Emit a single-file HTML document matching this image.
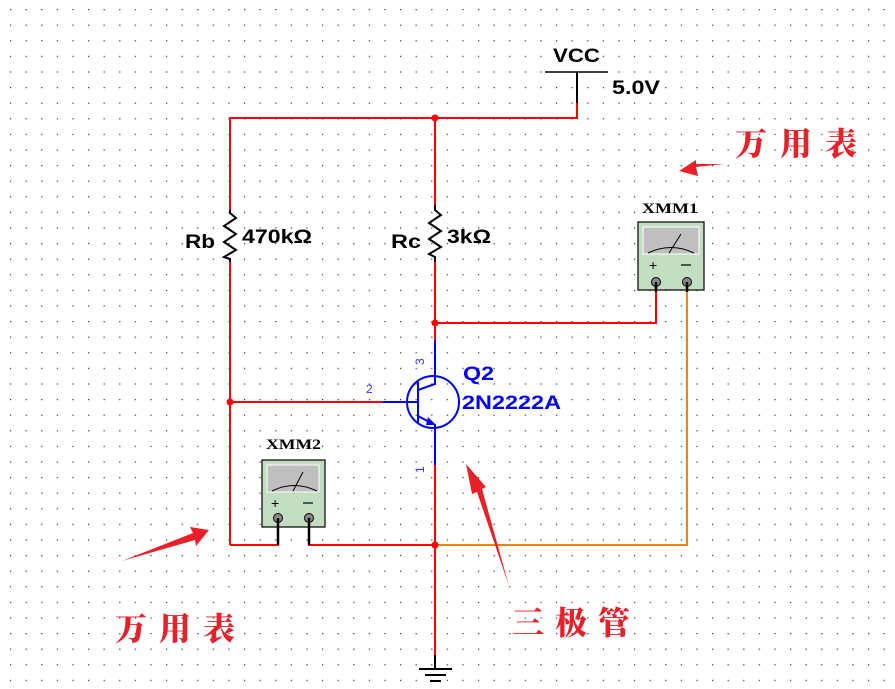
<!DOCTYPE html>
<html><head><meta charset="utf-8"><style>
html,body{margin:0;padding:0;background:#fff;}
svg{display:block;}
.t{font-family:"Liberation Sans",sans-serif;font-weight:bold;}
.cn{font-family:"Noto Serif CJK SC","Liberation Serif",serif;font-weight:900;fill:#e8202a;font-size:32px;}
</style></head><body>
<svg width="895" height="689" viewBox="0 0 895 689" xmlns="http://www.w3.org/2000/svg">
<defs>
<pattern id="g" x="10" y="9" width="15.6" height="15.6" patternUnits="userSpaceOnUse">
<rect x="0" y="0" width="1.2" height="1.2" fill="#333"/>
</pattern>
</defs>
<rect width="895" height="689" fill="#fff"/>
<rect width="895" height="689" fill="url(#g)"/>

<!-- VCC -->
<text x="553" y="62" class="t" font-size="19" textLength="47" lengthAdjust="spacingAndGlyphs">VCC</text>
<text x="612" y="94" class="t" font-size="19" textLength="48" lengthAdjust="spacingAndGlyphs">5.0V</text>
<line x1="545" y1="72" x2="608" y2="72" stroke="#000" stroke-width="1.5"/>
<line x1="577" y1="72" x2="577" y2="103" stroke="#000" stroke-width="2"/>

<g stroke="#f00" stroke-width="2" fill="none">
<polyline points="577,103 577,118 230,118 230,210"/>
<line x1="230" y1="262" x2="230" y2="545"/>
<line x1="435" y1="118" x2="435" y2="205"/>
<line x1="435" y1="262" x2="435" y2="340"/>
<polyline points="435,323 656,323 656,292"/>
<line x1="230" y1="402" x2="383" y2="402"/>
<line x1="435" y1="465" x2="435" y2="655"/>
<polyline points="230,545 278,545 278,528"/>
<polyline points="309,528 309,545 435,545"/>
</g>
<polyline points="435,545 687,545 687,292" stroke="#f5820a" stroke-width="2" fill="none"/>

<g fill="#f00">
<circle cx="435" cy="118" r="3.5"/><circle cx="435" cy="323" r="3.5"/>
<circle cx="230" cy="402" r="3.5"/><circle cx="435" cy="545" r="3.5"/>
</g>

<g stroke="#000" stroke-width="2" fill="none">
<polyline points="230,210 230,213 236,218 224,226 236,234 224,242 236,250 224,257 230,259 230,262"/>
<polyline points="435,205 435,210 441,215 429,223 441,231 429,239 441,247 429,254 435,257 435,262"/>
</g>
<text x="185" y="248" class="t" font-size="19" textLength="30" lengthAdjust="spacingAndGlyphs">Rb</text>
<text x="242" y="243" class="t" font-size="19" textLength="70" lengthAdjust="spacingAndGlyphs">470kΩ</text>
<text x="391" y="248" class="t" font-size="19" textLength="30" lengthAdjust="spacingAndGlyphs">Rc</text>
<text x="447" y="243" class="t" font-size="19" textLength="44" lengthAdjust="spacingAndGlyphs">3kΩ</text>

<g stroke="#00f" stroke-width="2" fill="none">
<line x1="435" y1="340" x2="435" y2="375"/>
<line x1="435" y1="428" x2="435" y2="465"/>
<circle cx="433" cy="402" r="26"/>
<line x1="383" y1="402" x2="418" y2="402"/>
<line x1="418" y1="382" x2="418" y2="423"/>
<polyline points="418,390 435,384 435,375"/>
<polyline points="418,416 435,425 435,428"/>
</g>
<polygon points="428,417 436,425 426,425" fill="#00f"/>
<text x="463" y="380" class="t" font-size="19" fill="#00f" textLength="31" lengthAdjust="spacingAndGlyphs">Q2</text>
<text x="462" y="409" class="t" font-size="19" fill="#00f" textLength="99" lengthAdjust="spacingAndGlyphs">2N2222A</text>
<text x="366" y="393" font-family="Liberation Sans" font-size="12" fill="#33f">2</text>
<text transform="translate(424,365) rotate(-90)" font-family="Liberation Sans" font-size="12" fill="#33f">3</text>
<text transform="translate(424,473) rotate(-90)" font-family="Liberation Sans" font-size="12" fill="#33f">1</text>

<line x1="435" y1="655" x2="435" y2="669" stroke="#000" stroke-width="2"/>
<g stroke="#000" stroke-width="2"><line x1="419" y1="669" x2="452" y2="669"/><line x1="425" y1="675" x2="446" y2="675"/><line x1="430" y1="681" x2="441" y2="681"/></g>

<!-- XMM1 -->
<text x="642" y="213" font-family="Liberation Serif" font-weight="bold" font-size="15" fill="#000" textLength="56" lengthAdjust="spacingAndGlyphs">XMM1</text>
<g transform="translate(638,222)">
<rect x="0" y="0" width="66" height="68" fill="#c2ddc2" stroke="#000" stroke-width="1.2"/>
<rect x="5" y="5" width="56" height="27" fill="#bfbfbf" stroke="#fff" stroke-width="1"/>
<path d="M10,31 Q33,20 56,31" stroke="#000" fill="none" stroke-width="1"/>
<line x1="31" y1="31" x2="43" y2="12" stroke="#000" stroke-width="1"/>
<text x="11" y="48" font-family="Liberation Sans" font-size="14">+</text>
<line x1="43" y1="43" x2="53" y2="43" stroke="#000" stroke-width="1.2"/>
<circle cx="18" cy="60" r="4.5" fill="#888" stroke="#000"/>
<circle cx="49" cy="60" r="4.5" fill="#888" stroke="#000"/>
<line x1="18" y1="60" x2="18" y2="70" stroke="#000" stroke-width="2.5"/>
<line x1="49" y1="60" x2="49" y2="70" stroke="#000" stroke-width="2.5"/>
</g>

<!-- XMM2 -->
<text x="266" y="449" font-family="Liberation Serif" font-weight="bold" font-size="15" fill="#000" textLength="55" lengthAdjust="spacingAndGlyphs">XMM2</text>
<g transform="translate(262,460)">
<rect x="0" y="0" width="63" height="67" fill="#c2ddc2" stroke="#000" stroke-width="1.2"/>
<rect x="5" y="5" width="52" height="27" fill="#bfbfbf" stroke="#fff" stroke-width="1"/>
<path d="M10,31 Q32,20 55,31" stroke="#000" fill="none" stroke-width="1"/>
<line x1="31" y1="31" x2="41" y2="12" stroke="#000" stroke-width="1"/>
<text x="9" y="48" font-family="Liberation Sans" font-size="14">+</text>
<line x1="41" y1="43" x2="51" y2="43" stroke="#000" stroke-width="1.2"/>
<circle cx="16" cy="58" r="4.5" fill="#888" stroke="#000"/>
<circle cx="47" cy="58" r="4.5" fill="#888" stroke="#000"/>
<line x1="16" y1="58" x2="16" y2="85" stroke="#000" stroke-width="2.5"/>
<line x1="47" y1="58" x2="47" y2="85" stroke="#000" stroke-width="2.5"/>
</g>

<!-- arrows -->
<g fill="#e8202a">
<polygon points="122,561 193,533 190,527 209,530 196,546 195,540"/>
<polygon points="724,164 696,167 698,176 679,171 696,160 696,164"/>
<polygon points="509,586 477,492 472,494 466,464 486,487 482,489"/>
</g>

<text x="735" y="155" class="cn" textLength="122" lengthAdjust="spacing">万用表</text>
<text x="115" y="640" class="cn" textLength="120" lengthAdjust="spacing">万用表</text>
<text x="512" y="634" class="cn" textLength="118" lengthAdjust="spacing">三极管</text>
</svg>
</body></html>
